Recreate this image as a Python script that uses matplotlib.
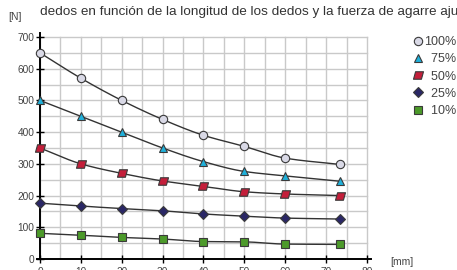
import numpy as np
import matplotlib
matplotlib.use("Agg")
import matplotlib.pyplot as plt
from matplotlib.path import Path
from matplotlib.lines import Line2D

# ---- data ----
finger_length = [0, 10, 20, 30, 40, 50, 60, 73.5]
force_100 = [650, 570, 500, 440, 390, 355, 318, 298]
force_75 = [500, 450, 400, 350, 307, 276, 262, 245]
force_50 = [350, 300, 270, 246, 229, 212, 205, 200]
force_25 = [176, 167, 159, 152, 142, 135, 129, 126]
force_10 = [81, 75, 68, 63, 55, 54, 47, 46]
series_labels = ["100%", "  75%", "  50%", "  25%", "  10%"]
x_ticks = [0, 10, 20, 30, 40, 50, 60, 70, 80]
y_ticks = [0, 100, 200, 300, 400, 500, 600, 700]

plt.rcParams['font.family'] = ['Liberation Sans', 'DejaVu Sans']

W, H = 457, 270
fig = plt.figure(figsize=(W / 100, H / 100), dpi=100)

x0, x1 = -0.8, 81.0
y0, y1 = 0, 712
pxu = (367 - 40) / 80.0
left_px = 40 + x0 * pxu
right_px = 367 + (x1 - 80) * pxu
pyu = (259 - 37) / 700.0
top_px = 37 - (y1 - 700) * pyu
ax = fig.add_axes([left_px / W, (H - 259) / H, (right_px - left_px) / W, (259 - top_px) / H])
ax.set_xlim(x0, x1)
ax.set_ylim(y0, y1)

# grid
grid_c = '#c9c9c9'
for gx in np.arange(0, 81, 5):
    ax.plot([gx, gx], [0, 700], color=grid_c, lw=1.0, zorder=0)
for gy in np.arange(0, 701, 50):
    ax.plot([0, 80], [gy, gy], color=grid_c, lw=1.0, zorder=0)


def pchip(x, y, n=200):
    x = np.asarray(x, float); y = np.asarray(y, float)
    h = np.diff(x); d = np.diff(y) / h
    m = np.zeros_like(y)
    for k in range(1, len(x) - 1):
        if d[k - 1] * d[k] > 0:
            w1 = 2 * h[k] + h[k - 1]; w2 = h[k] + 2 * h[k - 1]
            m[k] = (w1 + w2) / (w1 / d[k - 1] + w2 / d[k])
    m[0] = d[0]; m[-1] = d[-1]
    xs = np.linspace(x[0], x[-1], n)
    idx = np.clip(np.searchsorted(x, xs) - 1, 0, len(x) - 2)
    t = (xs - x[idx]) / h[idx]
    h00 = 2 * t**3 - 3 * t**2 + 1; h10 = t**3 - 2 * t**2 + t
    h01 = -2 * t**3 + 3 * t**2; h11 = t**3 - t**2
    ys = h00 * y[idx] + h10 * h[idx] * m[idx] + h01 * y[idx + 1] + h11 * h[idx] * m[idx + 1]
    return xs, ys

para = Path([(-0.6, -0.45), (0.35, -0.45), (0.6, 0.45), (-0.35, 0.45), (-0.6, -0.45)],
            [Path.MOVETO, Path.LINETO, Path.LINETO, Path.LINETO, Path.CLOSEPOLY])

styles = [
    (force_100, 'o', '#d9d9e6', 6.0),
    (force_75, '^', '#1fb0da', 6.2),
    (force_50, para, '#c41e3a', 7.2),
    (force_25, 'D', '#2a2766', 5.0),
    (force_10, 's', '#4c9a2a', 5.4),
]
handles = []
for (vals, mk, fc, ms), lab in zip(styles, series_labels):
    xs, ys = pchip(finger_length, vals)
    ax.plot(xs, ys, color='#333333', lw=1.0, zorder=2)
    ax.plot(finger_length, vals, linestyle='none', marker=mk, markersize=ms,
            markerfacecolor=fc, markeredgecolor='#3a3a3a', markeredgewidth=0.8,
            zorder=3, clip_on=False)
    handles.append(Line2D([], [], linestyle='none', marker=mk, markersize=ms,
                          markerfacecolor=fc, markeredgecolor='#3a3a3a',
                          markeredgewidth=0.8, label=lab))

for s in ['top', 'right']:
    ax.spines[s].set_visible(False)
ax.spines['left'].set_position(('data', 0))
for s in ['left', 'bottom']:
    ax.spines[s].set_linewidth(1.4)
    ax.spines[s].set_color('black')

ax.set_xticks(x_ticks)
ax.set_yticks(y_ticks)
ax.tick_params(axis='both', direction='inout', length=6, width=1.0, color='black',
               labelsize=7.3, labelcolor='#444444', pad=1)
ax.tick_params(axis='x', pad=3)

leg = ax.legend(handles=handles, loc='upper right', bbox_to_anchor=(456 / W, 1 - 36 / H),
                bbox_transform=fig.transFigure, frameon=False, fontsize=9,
                handlelength=0.8, handletextpad=0.1, labelspacing=0.42,
                borderpad=0, borderaxespad=0)
for t in leg.get_texts():
    t.set_color('#444444')

fig.text(40 / W, 1 - 15 / H, "dedos en función de la longitud de los dedos y la fuerza de agarre ajustada",
         fontsize=9.7, color='#333333', va='baseline', ha='left')
fig.text(8 / W, 1 - 20 / H, "[N]", fontsize=7.5, color='#444444', va='baseline', ha='left')
fig.text(390 / W, 1 - 265 / H, "[mm]", fontsize=7.5, color='#444444', va='baseline', ha='left')

fig.savefig("out.png", dpi=100)
